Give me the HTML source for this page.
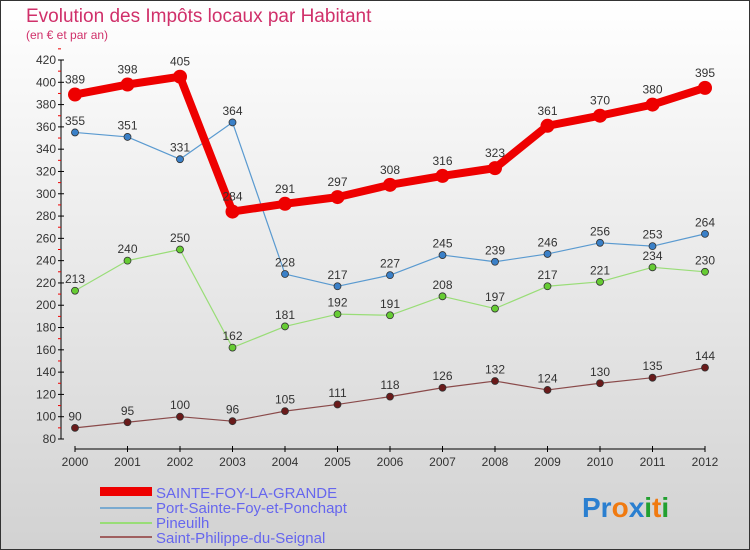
<!DOCTYPE html>
<html><head><meta charset="utf-8"><style>
body{margin:0;width:750px;height:550px;overflow:hidden;font-family:"Liberation Sans",sans-serif}
#wrap{position:absolute;left:0;top:0;width:748px;height:548px;border:1px solid #333;background:linear-gradient(#ffffff,#d2d2d2)}
</style></head><body>
<div id="wrap"></div>
<svg id="chart" width="750" height="550" style="position:absolute;left:0;top:0">
<text x="26" y="22" font-size="19" fill="#d0306a">Evolution des Impôts locaux par Habitant</text>
<text x="26" y="39" font-size="12" fill="#d0306a">(en € et par an)</text>
<g id="axes"></g><g id="series"></g>
<g>
<rect x="100" y="487" width="52" height="9" fill="#e00"/>
<text x="156" y="498" font-size="15" fill="#6666ee">SAINTE-FOY-LA-GRANDE</text>
<rect x="100" y="507" width="52" height="2" fill="#7aaad0"/>
<text x="156" y="513" font-size="15" fill="#6666ee">Port-Sainte-Foy-et-Ponchapt</text>
<rect x="100" y="522" width="52" height="2" fill="#99dd77"/>
<text x="156" y="528" font-size="15" fill="#6666ee">Pineuilh</text>
<rect x="100" y="536" width="52" height="2" fill="#a06060"/>
<text x="156" y="543" font-size="15" fill="#6666ee">Saint-Philippe-du-Seignal</text>
</g>
<text x="582" y="517" font-size="28" font-weight="bold"><tspan fill="#2a7fd0">Pr</tspan><tspan fill="#f07a10">o</tspan><tspan fill="#2a7fd0">x</tspan><tspan fill="#22a030">i</tspan><tspan fill="#f07a10">t</tspan><tspan fill="#22a030">i</tspan></text>
</svg>
<script>
const years=[2000,2001,2002,2003,2004,2005,2006,2007,2008,2009,2010,2011,2012];
const yTicks=[80,100,120,140,160,180,200,220,240,260,280,300,320,340,360,380,400,420];
const sainteFoy=[389,398,405,284,291,297,308,316,323,361,370,380,395];
const port=[355,351,331,364,228,217,227,245,239,246,256,253,264];
const pineuilh=[213,240,250,162,181,192,191,208,197,217,221,234,230];
const saintPhilippe=[90,95,100,96,105,111,118,126,132,124,130,135,144];
const NS="http://www.w3.org/2000/svg";
const X=i=>75+i*52.5, Y=v=>439-(v-80)*379/340;
function mk(t,a,p){const e=document.createElementNS(NS,t);for(const k in a)e.setAttribute(k,a[k]);p.appendChild(e);return e;}
const ax=document.getElementById('axes'), se=document.getElementById('series');
let l=mk('line',{x1:61,y1:Y(420),x2:61,y2:Y(80),stroke:'#000'},ax);

yTicks.forEach(v=>{mk('line',{x1:58,y1:Y(v),x2:64,y2:Y(v),stroke:'#000'},ax);
 mk('line',{x1:58,y1:Y(v+10),x2:61,y2:Y(v+10),stroke:'#e00'},ax);
 const t=mk('text',{x:56,y:Y(v)+4,'font-size':12,'text-anchor':'end',fill:'#333'},ax);t.textContent=v;
 });
l=mk('line',{x1:75,y1:449,x2:705,y2:449,stroke:'#000'},ax);

years.forEach((y,i)=>{mk('line',{x1:X(i),y1:446,x2:X(i),y2:452,stroke:'#000'},ax);
 const t=mk('text',{x:X(i),y:466,'font-size':12,'text-anchor':'middle',fill:'#333'},ax);t.textContent=y;
 });
function draw(d,name,col,w,r,dot){const g=mk('g',{},se);
 
 mk('polyline',{points:d.map((v,i)=>X(i)+','+Y(v)).join(' '),fill:'none',stroke:col,'stroke-width':w,'stroke-linejoin':'round'},g);
 d.forEach((v,i)=>{const c=mk('circle',{cx:X(i),cy:Y(v),r:r,fill:dot,stroke:'#333','stroke-width':r>5?0:0.8},g);
  
  const t=mk('text',{x:X(i),y:Y(v)-r-4,'font-size':12,'text-anchor':'middle',fill:'#333'},g);t.textContent=v;
  });}
draw(saintPhilippe,'saint-philippe','#8a4a4a',1.2,3.5,'#6a1a1a');
draw(pineuilh,'pineuilh','#99dd77',1.2,3.5,'#66cc33');
draw(port,'port','#5a9ad0',1.2,3.5,'#3a80c8');
draw(sainteFoy,'sainte-foy','#ee0000',8,7,'#ee0000');
</script>
</body></html>
